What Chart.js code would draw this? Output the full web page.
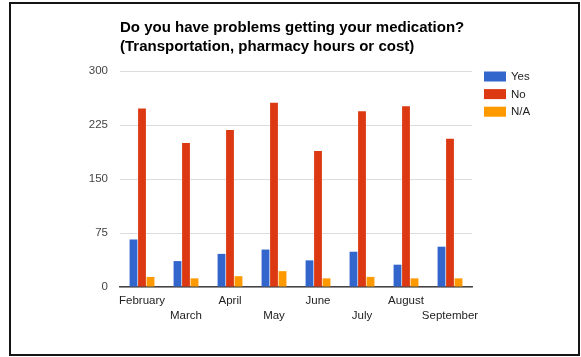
<!DOCTYPE html>
<html>
<head>
<meta charset="utf-8">
<script src="https://cdn.jsdelivr.net/npm/chart.js@4/dist/chart.umd.min.js"></script>
<style>
  html, body { margin: 0; padding: 0; background: #fff; }
  body { width: 581px; height: 357px; position: relative; overflow: hidden; }
  #frame {
    position: absolute; left: 9px; top: 2px; width: 571px; height: 354px;
    border: 2px solid #151515; box-sizing: border-box;
  }
  #chart { position: absolute; left: 0; top: 0; }
</style>
</head>
<body>
<div id="frame"></div>
<canvas id="chart" width="581" height="357" style="width:581px;height:357px"></canvas>
<script>
// Survey answers per month
const titleLines = ['Do you have problems getting your medication?', '(Transportation, pharmacy hours or cost)'];
const months = ['February', 'March', 'April', 'May', 'June', 'July', 'August', 'September'];
const seriesNames = ['Yes', 'No', 'N/A'];
const yesCounts = [66, 36, 46, 52, 37, 49, 31, 56];
const noCounts = [248, 200, 218, 256, 189, 244, 251, 206];
const naCounts = [14, 12, 15, 22, 12, 14, 12, 12];
const yTicks = [0, 75, 150, 225, 300];

const palette = ['#3366cc', '#dc3912', '#ff9900'];
const FONT = "'Liberation Sans', Arial, sans-serif";

// Legend drawn as a column of swatches to the right of the plot
const sideLegend = {
  id: 'sideLegend',
  afterDraw(chart) {
    const ctx = chart.ctx;
    ctx.save();
    ctx.font = '11.5px ' + FONT;
    ctx.textBaseline = 'middle';
    chart.data.datasets.forEach((ds, i) => {
      const top = 71.5 + i * 17.6;
      ctx.fillStyle = ds.backgroundColor;
      ctx.fillRect(484, top, 22, 10);
      ctx.fillStyle = '#222';
      ctx.fillText(ds.label, 511, top + 5.5);
    });
    ctx.restore();
  }
};

new Chart(document.getElementById('chart'), {
  type: 'bar',
  data: {
    labels: months,
    datasets: [
      { label: seriesNames[0], data: yesCounts, backgroundColor: palette[0] },
      { label: seriesNames[1], data: noCounts, backgroundColor: palette[1] },
      { label: seriesNames[2], data: naCounts, backgroundColor: palette[2] }
    ]
  },
  options: {
    responsive: false,
    devicePixelRatio: 1,
    animation: false,
    layout: { padding: { left: 0, top: 0, right: 109, bottom: 25 } },
    datasets: { bar: { barPercentage: 0.92, categoryPercentage: 0.58 } },
    plugins: {
      legend: { display: false },
      tooltip: { enabled: false },
      title: {
        display: true,
        text: titleLines,
        fullSize: false,
        align: 'start',
        color: '#000',
        font: { family: FONT, size: 15, weight: 'bold', lineHeight: 1.3 },
        padding: { top: 18, bottom: 14 }
      }
    },
    scales: {
      x: {
        grid: { display: false, drawTicks: false },
        border: { display: true, color: '#444', width: 1.5 },
        afterFit(scale) { scale.height = 45; },
        ticks: {
          autoSkip: false,
          maxRotation: 0,
          minRotation: 0,
          padding: 6,
          color: '#222',
          font: { family: FONT, size: 11.5, lineHeight: 1.3 },
          callback(value, index) {
            const name = this.getLabelForValue(value);
            return index % 2 ? ['', name] : name;
          }
        }
      },
      y: {
        min: yTicks[0],
        max: yTicks[yTicks.length - 1],
        afterFit(scale) { scale.width = 120; },
        afterBuildTicks(scale) { scale.ticks = yTicks.map(v => ({ value: v })); },
        grid: { color: '#dcdcdc', lineWidth: 1, drawTicks: false },
        border: { display: false },
        ticks: {
          padding: 12,
          color: '#444',
          font: { family: FONT, size: 11.5 }
        }
      }
    }
  },
  plugins: [sideLegend]
});
</script>
</body>
</html>
